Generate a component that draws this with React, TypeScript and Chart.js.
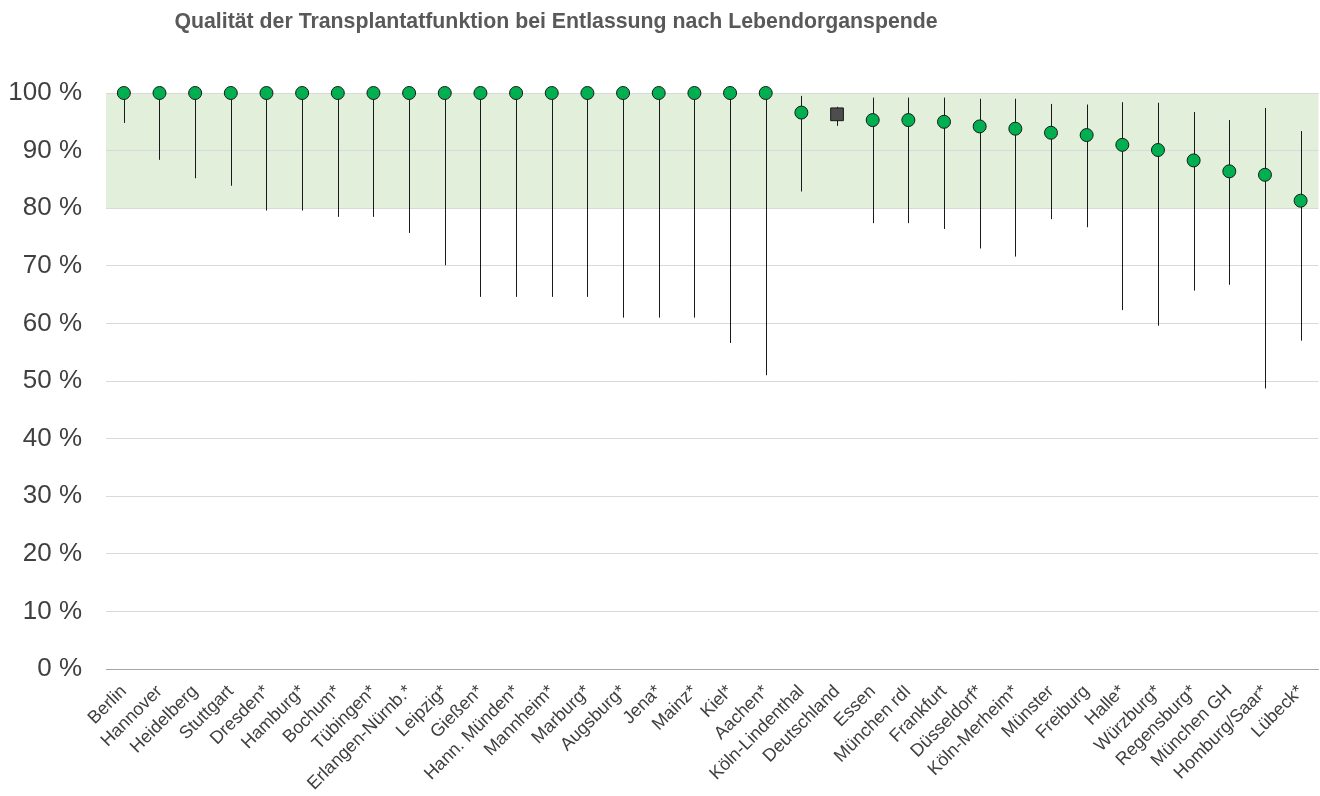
import React, { useEffect, useRef } from "react";
import { Chart, registerables } from "chart.js";

Chart.register(...registerables);

const TITLE = "Qualität der Transplantatfunktion bei Entlassung nach Lebendorganspende";

const categories = [
  "Berlin", "Hannover", "Heidelberg", "Stuttgart", "Dresden*", "Hamburg*", "Bochum*", "Tübingen*",
  "Erlangen-Nürnb.*", "Leipzig*", "Gießen*", "Hann. Münden*", "Mannheim*", "Marburg*", "Augsburg*",
  "Jena*", "Mainz*", "Kiel*", "Aachen*", "Köln-Lindenthal", "Deutschland", "Essen", "München rdI",
  "Frankfurt", "Düsseldorf*", "Köln-Merheim*", "Münster", "Freiburg", "Halle*", "Würzburg*",
  "Regensburg*", "München GH", "Homburg/Saar*", "Lübeck*",
];

const values = [
  100, 100, 100, 100, 100, 100, 100, 100, 100, 100, 100, 100, 100, 100, 100, 100, 100, 100, 100,
  96.6, 96.3, 95.3, 95.3, 95.0, 94.2, 93.8, 93.1, 92.7, 91.0, 90.1, 88.3, 86.4, 85.8, 81.3,
];

const upper = [
  100, 100, 100, 100, 100, 100, 100, 100, 100, 100, 100, 100, 100, 100, 100, 100, 100, 100, 100,
  99.5, 97.6, 99.2, 99.2, 99.2, 99.0, 99.0, 98.1, 98.0, 98.4, 98.3, 96.7, 95.3, 97.4, 93.4,
];

const lower = [
  94.8, 88.4, 85.2, 83.9, 79.6, 79.6, 78.5, 78.5, 75.7, 70.1, 64.6, 64.6, 64.6, 64.6, 61.0,
  61.0, 61.0, 56.6, 51.0, 82.9, 94.3, 77.4, 77.4, 76.4, 73.0, 71.6, 78.1, 76.7, 62.3, 59.6,
  65.7, 66.7, 48.7, 57.0,
];

const yTicks = [0, 10, 20, 30, 40, 50, 60, 70, 80, 90, 100];
const bandRange = [80, 100];
const highlightCategory = "Deutschland";

const FONT = "'Liberation Sans', Arial, sans-serif";

const bandPlugin = {
  id: "band",
  beforeDraw(chart: any) {
    const { ctx, chartArea, scales } = chart;
    const y = scales.y;
    const top = y.getPixelForValue(bandRange[1]);
    const bot = y.getPixelForValue(bandRange[0]);
    ctx.save();
    ctx.fillStyle = "#e2efda";
    ctx.fillRect(chartArea.left, top, chartArea.right - chartArea.left, bot - top);
    ctx.restore();
  },
};

const errorBarPlugin = {
  id: "errorBars",
  beforeDatasetsDraw(chart: any) {
    const { ctx, scales } = chart;
    const x = scales.x;
    const y = scales.y;
    ctx.save();
    ctx.strokeStyle = "#1a1a1a";
    ctx.lineWidth = 1;
    categories.forEach((_, i) => {
      const px = Math.round(x.getPixelForValue(i)) + 0.5;
      ctx.beginPath();
      ctx.moveTo(px, y.getPixelForValue(upper[i]));
      ctx.lineTo(px, y.getPixelForValue(lower[i]));
      ctx.stroke();
    });
    ctx.restore();
  },
};

const titlePlugin = {
  id: "customTitle",
  afterDraw(chart: any) {
    const { ctx } = chart;
    ctx.save();
    ctx.font = `bold 21.3px ${FONT}`;
    ctx.fillStyle = "#595959";
    ctx.textAlign = "center";
    ctx.textBaseline = "alphabetic";
    ctx.fillText(TITLE, 556, 28);
    ctx.restore();
  },
};

export default function App() {
  const ref = useRef<HTMLCanvasElement | null>(null);

  useEffect(() => {
    document.body.style.margin = "0";
    document.body.style.overflow = "hidden";
    const canvas = ref.current;
    if (!canvas) return;
    const isHi = categories.map((c) => c === highlightCategory);
    const chart = new Chart(canvas, {
      type: "line",
      data: {
        labels: categories,
        datasets: [
          {
            data: values,
            showLine: false,
            clip: false as any,
            pointStyle: isHi.map((h) => (h ? "rect" : "circle")) as any,
            pointRadius: isHi.map((h) => (h ? 9 : 6.5)),
            pointBackgroundColor: isHi.map((h) => (h ? "#4d4d4d" : "#00b050")),
            pointBorderColor: "#1a1a1a",
            pointBorderWidth: 1,
          },
        ],
      },
      options: {
        responsive: false,
        animation: false,
        events: [],
        layout: { padding: { top: 93, right: 2, left: 0, bottom: 0 } },
        plugins: {
          legend: { display: false },
          title: { display: false },
          tooltip: { enabled: false },
        },
        scales: {
          x: {
            type: "category",
            offset: true,
            grid: { display: false, drawTicks: false },
            border: { display: true, color: "#a6a6a6", width: 1 },
            ticks: {
              autoSkip: false,
              maxRotation: 45,
              minRotation: 45,
              padding: 12,
              labelOffset: 0,
              color: "#404040",
              font: { family: FONT, size: 18 },
            },
            afterFit(scale: any) {
              scale.height = 127;
            },
          },
          y: {
            min: 0,
            max: 100,
            afterBuildTicks(scale: any) {
              scale.ticks = yTicks.map((v) => ({ value: v }));
            },
            grid: {
              drawTicks: false,
              color: (c: any) => (c.tick && c.tick.value === 0 ? "#a6a6a6" : "#d9d9d9"),
              lineWidth: 1,
            },
            border: { display: false },
            ticks: {
              padding: 24,
              color: "#404040",
              font: { family: FONT, size: 26 },
              callback: (v: any) => `${v} %`,
            },
            afterFit(scale: any) {
              scale.width = 106;
            },
          },
        },
      },
      plugins: [bandPlugin, errorBarPlugin, titlePlugin],
    });
    return () => chart.destroy();
  }, []);

  return (
    <div style={{ position: "absolute", left: 0, top: 0, width: 1320, height: 796, overflow: "hidden" }}>
      <canvas ref={ref} width={1328} height={796} style={{ display: "block" }} />
    </div>
  );
}
